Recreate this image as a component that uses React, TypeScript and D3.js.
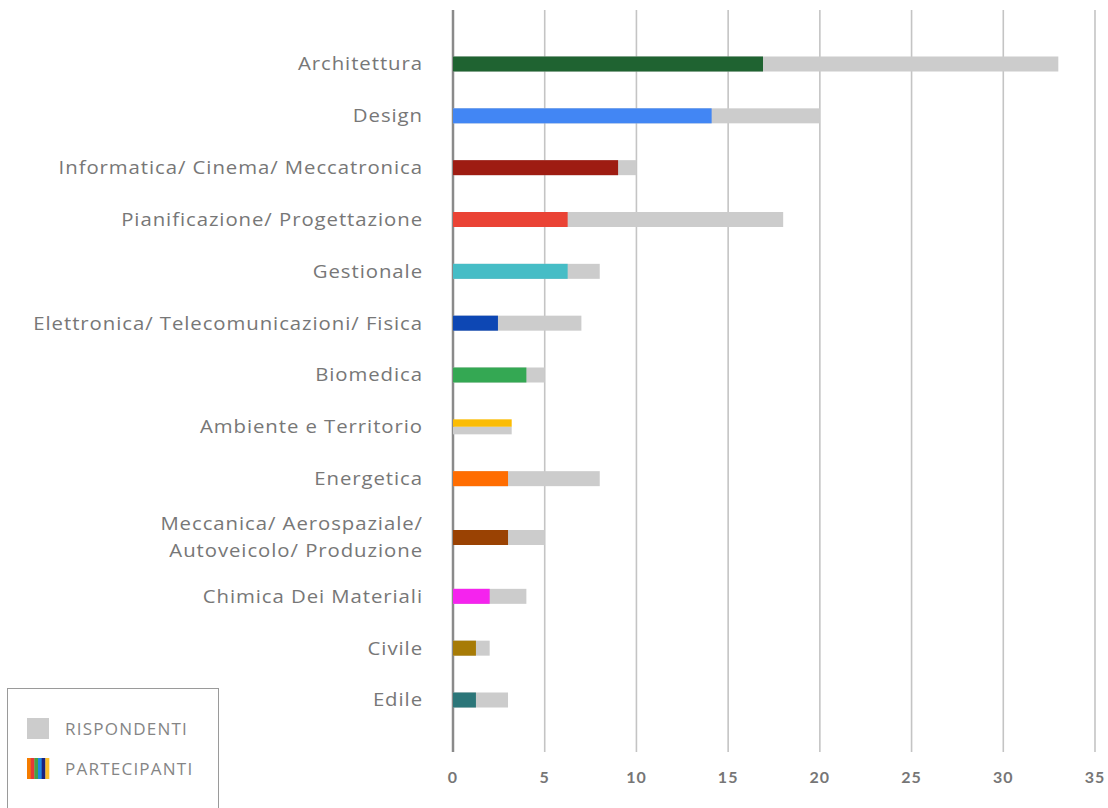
import React from "react";
import * as d3 from "d3";

const categories = [
  "Architettura",
  "Design",
  "Informatica/ Cinema/ Meccatronica",
  "Pianificazione/ Progettazione",
  "Gestionale",
  "Elettronica/ Telecomunicazioni/ Fisica",
  "Biomedica",
  "Ambiente e Territorio",
  "Energetica",
  "Meccanica/ Aerospaziale/\nAutoveicolo/ Produzione",
  "Chimica Dei Materiali",
  "Civile",
  "Edile",
];
const partecipanti = [16.9, 14.1, 9, 6.25, 6.25, 2.45, 4, 3.2, 3, 3, 2, 1.25, 1.25];
const rispondenti = [33, 20, 10, 18, 8, 7, 5, 3.2, 8, 5, 4, 2, 3];
const barColors = [
  "#1f6331", "#4286f4", "#9e1c12", "#ea4335", "#46bdc6", "#0d47b4", "#34a853",
  "#fbbc04", "#ff6d01", "#9a4203", "#f523ee", "#a77b06", "#2c7679",
];
const xTicks = [0, 5, 10, 15, 20, 25, 30, 35];
const legendLabels = ["RISPONDENTI", "PARTECIPANTI"];
const legendStripes = ["#f57c00", "#e53935", "#43a047", "#1e88e5", "#1a237e", "#fbc02d"];

const W = 1108;
const H = 808;
const FONT = "'Open Sans', Lato, sans-serif";
const STRETCH = 1.1;

export default function App() {
  const x = d3.scaleLinear().domain([0, 35]).range([453, 1095]);
  const base = d3.scalePoint<number>().domain(d3.range(categories.length)).range([64, 686]);
  const lines = categories.map((c) => c.split("\n").length);
  const extra = 7;
  const yCenter = (i: number) => {
    let off = 0;
    for (let k = 0; k < i; k++) if (lines[k] > 1) off += extra * 2;
    if (lines[i] > 1) off += extra;
    return (base(i) as number) + off;
  };
  const barH = 15;
  const gridTop = 10;
  const gridBottom = 752;

  return (
    <svg width={W} height={H} style={{ position: "absolute", left: 0, top: 0, background: "#fff" }}>
      {xTicks.map((t) => (
        <line
          key={t}
          x1={x(t)}
          x2={x(t)}
          y1={gridTop}
          y2={gridBottom}
          stroke={t === 0 ? "#8a8a8a" : "#c4c4c4"}
          strokeWidth={t === 0 ? 2.5 : 1.6}
        />
      ))}
      {xTicks.map((t) => (
        <text
          key={"l" + t}
          x={x(t)}
          y={783}
          textAnchor="middle"
          fontFamily="Lato, sans-serif"
          fontSize={16}
          fontWeight={700}
          fill="#767676"
          letterSpacing={1}
        >
          {t}
        </text>
      ))}
      {categories.map((c, i) => {
        const cy = yCenter(i);
        const p = partecipanti[i];
        const r = rispondenti[i];
        if (p >= r) {
          return (
            <g key={c}>
              <rect x={x(0)} y={cy - barH / 2} width={x(p) - x(0)} height={barH / 2} fill={barColors[i]} />
              <rect x={x(0)} y={cy} width={x(r) - x(0)} height={barH / 2} fill="#cccccc" />
            </g>
          );
        }
        return (
          <g key={c}>
            <rect x={x(0)} y={cy - barH / 2} width={x(r) - x(0)} height={barH} fill="#cccccc" />
            <rect x={x(0)} y={cy - barH / 2} width={x(p) - x(0)} height={barH} fill={barColors[i]} />
          </g>
        );
      })}
      {categories.map((c, i) => {
        const cy = yCenter(i);
        const ls = c.split("\n");
        const lh = 27;
        return (
          <g key={"c" + i} transform={`translate(423,0) scale(${STRETCH},1)`}>
            <text textAnchor="end" fontFamily={FONT} fontSize={18.5} fontWeight={400} fill="#777777" letterSpacing={0.85}>
              {ls.map((l, j) => (
                <tspan key={j} x={0} y={cy + (j - (ls.length - 1) / 2) * lh + 6.5}>
                  {l}
                </tspan>
              ))}
            </text>
          </g>
        );
      })}
      <rect x={7.5} y={688.5} width={211} height={130} fill="#fff" stroke="#9a9a9a" strokeWidth={1} />
      <rect x={27} y={718} width={22} height={21} fill="#cccccc" />
      {legendLabels.map((l, k) => (
        <g key={l} transform={`translate(65,0) scale(${STRETCH},1)`}>
          <text x={0} y={735 + k * 40} fontFamily={FONT} fontSize={15.5} fontWeight={400} fill="#858585" letterSpacing={1.1}>
            {l}
          </text>
        </g>
      ))}
      {legendStripes.map((s, k) => (
        <rect key={s} x={27 + (k * 22) / legendStripes.length} y={758} width={22 / legendStripes.length + 0.3} height={21} fill={s} />
      ))}
    </svg>
  );
}
